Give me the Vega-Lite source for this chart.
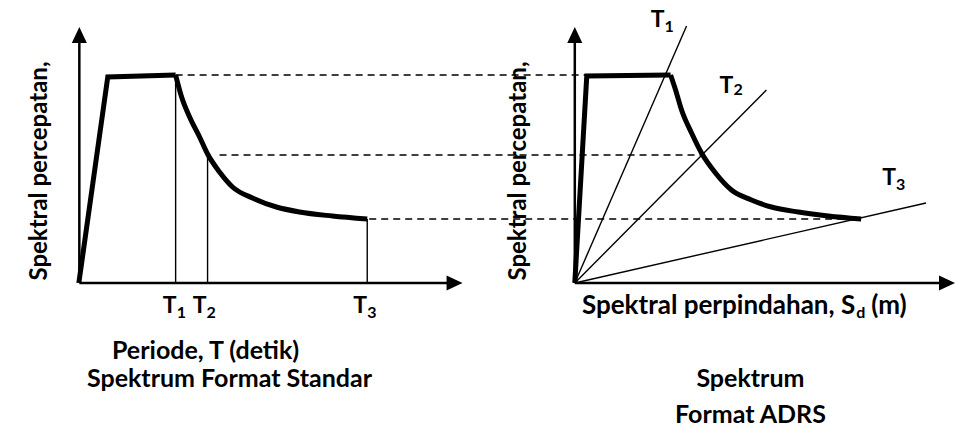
{
  "$schema": "https://vega.github.io/schema/vega-lite/v6.json",
  "width": 955,
  "height": 430,
  "padding": 0,
  "autosize": {"type": "fit", "contains": "padding"},
  "config": {"view": {"stroke": null}},
  "encoding": {
    "x": {"field": "x", "type": "quantitative", "scale": {"domain": [0, 955], "nice": false, "zero": false}, "axis": null},
    "y": {"field": "y", "type": "quantitative", "scale": {"domain": [0, 430], "nice": false, "zero": false}, "axis": null}
  },
  "layer": [
    {
      "data": {"values": [
        {"x": 176, "x2": 588, "y": 355},
        {"x": 220, "x2": 703, "y": 275},
        {"x": 370, "x2": 860, "y": 211}
      ]},
      "mark": {"type": "rule", "color": "black", "strokeWidth": 1.3, "strokeDash": [7, 5]},
      "encoding": {"x2": {"field": "x2"}}
    },
    {
      "data": {"values": [
        {"x": 176, "y": 147, "x2": 176, "y2": 355},
        {"x": 208, "y": 147, "x2": 208, "y2": 275},
        {"x": 368, "y": 147, "x2": 368, "y2": 211},
        {"x": 576, "y": 147, "x2": 688, "y2": 404},
        {"x": 576, "y": 147, "x2": 768, "y2": 340},
        {"x": 576, "y": 147, "x2": 928, "y2": 227}
      ]},
      "mark": {"type": "rule", "color": "black", "strokeWidth": 1.4},
      "encoding": {"x2": {"field": "x2"}, "y2": {"field": "y2"}}
    },
    {
      "data": {"values": [
        {"x": 79.5, "y": 147, "x2": 79.5, "y2": 388},
        {"x": 79.5, "y": 147, "x2": 450, "y2": 147},
        {"x": 576, "y": 147, "x2": 576, "y2": 388},
        {"x": 576, "y": 147, "x2": 948, "y2": 147}
      ]},
      "mark": {"type": "rule", "color": "black", "strokeWidth": 2.5},
      "encoding": {"x2": {"field": "x2"}, "y2": {"field": "y2"}}
    },
    {
      "data": {"values": [
        {"x": 79.5, "y": 395, "dir": "up"},
        {"x": 455.5, "y": 147, "dir": "right"},
        {"x": 576, "y": 395, "dir": "up"},
        {"x": 949, "y": 147, "dir": "right"}
      ]},
      "mark": {"type": "point", "filled": true, "color": "black", "opacity": 1, "size": 256},
      "encoding": {
        "shape": {"field": "dir", "type": "nominal", "legend": null,
          "scale": {"domain": ["up", "right"], "range": ["M0,-1L-0.94,1L0.94,1Z", "M1,0L-1,-0.94L-1,0.94Z"]}}
      }
    },
    {
      "data": {"values": [
        {"p": "a", "x": 79, "y": 147}, {"p": "a", "x": 108, "y": 353}, {"p": "a", "x": 176, "y": 355},
        {"p": "b", "x": 576, "y": 147}, {"p": "b", "x": 588, "y": 354}, {"p": "b", "x": 672, "y": 355}
      ]},
      "mark": {"type": "line", "color": "black", "strokeWidth": 5, "strokeJoin": "miter"},
      "encoding": {"detail": {"field": "p"}}
    },
    {
      "data": {"values": [
        {"p": "a", "x": 176, "y": 355}, {"p": "a", "x": 182, "y": 333}, {"p": "a", "x": 190, "y": 313},
        {"p": "a", "x": 200, "y": 293}, {"p": "a", "x": 208, "y": 276}, {"p": "a", "x": 220, "y": 258},
        {"p": "a", "x": 233, "y": 243}, {"p": "a", "x": 253, "y": 232}, {"p": "a", "x": 277, "y": 223},
        {"p": "a", "x": 300, "y": 218}, {"p": "a", "x": 333, "y": 214}, {"p": "a", "x": 368, "y": 211},
        {"p": "b", "x": 672, "y": 355}, {"p": "b", "x": 677, "y": 340}, {"p": "b", "x": 683, "y": 320},
        {"p": "b", "x": 693, "y": 297}, {"p": "b", "x": 703, "y": 277}, {"p": "b", "x": 717, "y": 257},
        {"p": "b", "x": 733, "y": 240}, {"p": "b", "x": 753, "y": 230}, {"p": "b", "x": 773, "y": 223},
        {"p": "b", "x": 800, "y": 218}, {"p": "b", "x": 830, "y": 214}, {"p": "b", "x": 863, "y": 211}
      ]},
      "mark": {"type": "line", "color": "black", "strokeWidth": 5, "interpolate": "monotone"},
      "encoding": {"detail": {"field": "p"}}
    },
    {
      "data": {"values": [
        {"x": 206, "y": 71, "t": "Periode, T (detik)"},
        {"x": 230, "y": 43, "t": "Spektrum Format Standar"},
        {"x": 752, "y": 43, "t": "Spektrum"},
        {"x": 752, "y": 7, "t": "Format ADRS"}
      ]},
      "mark": {"type": "text", "font": "Lato", "fontWeight": "bold", "fontSize": 25, "align": "center", "baseline": "alphabetic", "color": "black"},
      "encoding": {"text": {"field": "t"}}
    },
    {
      "data": {"values": [
        {"x": 47, "y": 259, "t": "Spektral percepatan,"},
        {"x": 527, "y": 259, "t": "Spektral percepatan,"}
      ]},
      "mark": {"type": "text", "font": "Lato", "fontWeight": "bold", "fontSize": 24, "align": "center", "baseline": "alphabetic", "angle": 270, "color": "black"},
      "encoding": {"text": {"field": "t"}}
    },
    {
      "data": {"values": [
        {"x": 857, "y": 116, "t": "Spektral perpindahan, S"}
      ]},
      "mark": {"type": "text", "font": "Lato", "fontWeight": "bold", "fontSize": 26, "align": "right", "baseline": "alphabetic", "color": "black"},
      "encoding": {"text": {"field": "t"}}
    },
    {
      "data": {"values": [
        {"x": 873, "y": 116, "t": "(m)"}
      ]},
      "mark": {"type": "text", "font": "Lato", "fontWeight": "bold", "fontSize": 26, "align": "left", "baseline": "alphabetic", "color": "black"},
      "encoding": {"text": {"field": "t"}}
    },
    {
      "data": {"values": [
        {"x": 170, "y": 117, "t": "T"},
        {"x": 200, "y": 117, "t": "T"},
        {"x": 361, "y": 117, "t": "T"},
        {"x": 659, "y": 403, "t": "T"},
        {"x": 728, "y": 337, "t": "T"},
        {"x": 891, "y": 245, "t": "T"}
      ]},
      "mark": {"type": "text", "font": "Lato", "fontWeight": "bold", "fontSize": 23, "align": "center", "baseline": "alphabetic", "color": "black"},
      "encoding": {"text": {"field": "t"}}
    },
    {
      "data": {"values": [
        {"x": 177, "y": 112, "t": "1"},
        {"x": 207, "y": 112, "t": "2"},
        {"x": 368, "y": 112, "t": "3"},
        {"x": 666, "y": 398, "t": "1"},
        {"x": 735, "y": 335, "t": "2"},
        {"x": 898, "y": 240, "t": "3"},
        {"x": 858, "y": 112, "t": "d"}
      ]},
      "mark": {"type": "text", "font": "Lato", "fontWeight": "bold", "fontSize": 16, "align": "left", "baseline": "alphabetic", "color": "black"},
      "encoding": {"text": {"field": "t"}}
    }
  ]
}
